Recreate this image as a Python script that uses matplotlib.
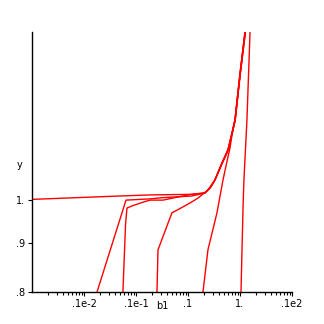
import numpy as np
import matplotlib
matplotlib.use("Agg")
import matplotlib.pyplot as plt
from matplotlib.ticker import FixedLocator, FixedFormatter, LogLocator, NullLocator

# shared upper branch (all curves bend up together above b1 ~ 0.2)
upper_x = [0.27, 0.33, 0.451, 0.587, 0.702, 0.801, 1.0, 1.25]
upper_y = [1.03, 1.049, 1.093, 1.128, 1.175, 1.213, 1.355, 1.50]
upper_x2 = [0.46, 0.60, 0.71, 0.81, 1.01, 1.27]
upper_y2 = [1.093, 1.128, 1.175, 1.213, 1.355, 1.50]

curve1_x = [1e-4, 4.9e-3, 0.0186, 0.109, 0.212]
curve1_y = [1.0008, 1.009, 1.0116, 1.013, 1.0165]
curve2_x = [1.78e-3, 6.42e-3, 0.0186, 0.033, 0.119, 0.212]
curve2_y = [0.8, 0.999, 1.002, 1.005, 1.009, 1.0165]
curve3_x = [5.6e-3, 6.3e-3, 6.71e-3, 8.38e-3, 0.0136, 0.0186, 0.033, 0.100, 0.212]
curve3_y = [0.8, 0.943, 0.980, 0.985, 0.994, 0.999, 0.999, 1.0116, 1.0165]
curve4_x = [0.0253, 0.0265, 0.0492, 0.0614, 0.109, 0.156, 0.242, 0.330]
curve4_y = [0.8, 0.886, 0.969, 0.975, 0.992, 1.004, 1.024, 1.049]
curve5_x = [0.194, 0.242, 0.361, 0.471, 0.587, 0.642]
curve5_y = [0.8, 0.886, 0.969, 1.049, 1.109, 1.133]
curve6_x = [1.045, 1.14, 1.19, 1.36, 1.56]
curve6_y = [0.8, 0.975, 1.049, 1.213, 1.5]

xticks = [1e-3, 1e-2, 1e-1, 1, 10]
xlabels = [".1e-2", ".1e-1", ".1", "1.", ".1e2"]
yticks = [0.8, 0.9, 1.0]
ylabels = [".8", ".9", "1."]

plt.rcParams["font.family"] = ["DejaVu Sans"]

fig = plt.figure(figsize=(3.24, 3.24), dpi=100)
ax = fig.add_axes([32 / 324, 32 / 324, 260 / 324, 260 / 324])

red = "#ff0000"
lines = [
    (curve1_x + upper_x, curve1_y + upper_y),
    (curve2_x + upper_x, curve2_y + upper_y),
    (curve3_x + upper_x, curve3_y + upper_y),
    (curve4_x + upper_x2, curve4_y + upper_y2),
    (curve5_x + upper_x2[2:], curve5_y + upper_y2[2:]),
    (curve6_x, curve6_y),
]
for xs, ys in lines:
    ax.plot(xs, ys, color=red, lw=1.0)

ax.set_xscale("log")
ax.set_yscale("log")
ax.set_xlim(1e-4, 10)
ax.set_ylim(0.8, 1.5)

ax.xaxis.set_major_locator(FixedLocator(xticks))
ax.xaxis.set_major_formatter(FixedFormatter(xlabels))
ax.xaxis.set_minor_locator(LogLocator(base=10, subs=np.arange(2, 10)))
ax.yaxis.set_major_locator(FixedLocator(yticks))
ax.yaxis.set_major_formatter(FixedFormatter(ylabels))
ax.yaxis.set_minor_locator(NullLocator())
ax.yaxis.set_minor_formatter(FixedFormatter([]))
ax.xaxis.set_minor_formatter(FixedFormatter([]))

ax.tick_params(which="major", length=3, width=0.8, labelsize=7, pad=2)
ax.tick_params(which="minor", length=2, width=0.8)

for side in ["top", "right"]:
    ax.spines[side].set_visible(False)
for side in ["left", "bottom"]:
    ax.spines[side].set_linewidth(1.0)

fig.text(20 / 324, 1 - 165 / 324, "y", fontsize=7, ha="center", va="center")
fig.text(162 / 324, 1 - 306 / 324, "b1", fontsize=7, ha="center", va="center")

fig.savefig("out.png", dpi=100)
